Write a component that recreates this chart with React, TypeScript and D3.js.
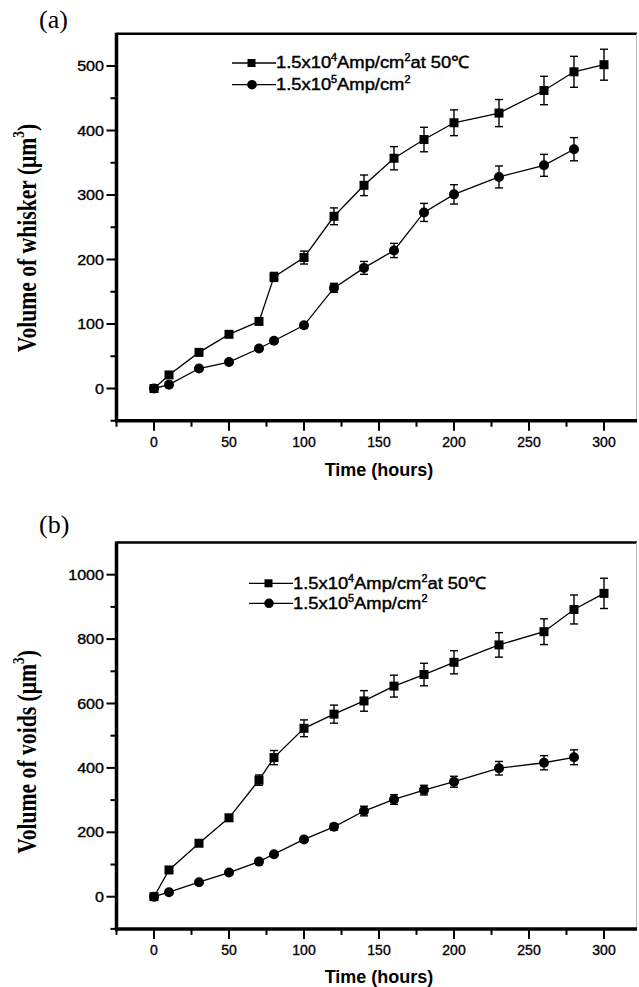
import React from "react";
import * as d3 from "d3";

const timeSq = [0, 10, 30, 50, 70, 80, 100, 120, 140, 160, 180, 200, 230, 260, 280, 300];
const timeCirc = [0, 10, 30, 50, 70, 80, 100, 120, 140, 160, 180, 200, 230, 260, 280];

const whiskerSq = [0, 21, 56, 84, 104, 173, 203, 267, 315, 357, 386, 412, 427, 462, 491, 502];
const whiskerSqErr = [2, 3, 3, 3, 4, 7, 10, 13, 16, 18, 19, 20, 21, 22, 24, 24];
const whiskerCirc = [0, 6, 31, 41, 62, 74, 98, 156, 187, 214, 273, 301, 328, 346, 371];
const whiskerCircErr = [2, 2, 2, 2, 3, 3, 4, 7, 10, 11, 14, 15, 17, 17, 18];

const voidsSq = [0, 83, 166, 245, 362, 432, 523, 567, 608, 654, 690, 728, 782, 823, 892, 942];
const voidsSqErr = [4, 6, 6, 8, 16, 22, 26, 28, 32, 34, 35, 36, 38, 40, 45, 47];
const voidsCirc = [0, 14, 45, 75, 109, 132, 178, 217, 266, 302, 331, 357, 399, 416, 433];
const voidsCircErr = [4, 4, 4, 5, 6, 6, 8, 10, 15, 15, 15, 17, 21, 22, 23];

const xMajor = [0, 50, 100, 150, 200, 250, 300];
const xMinor = [-25, 25, 75, 125, 175, 225, 275];
const yMajorA = [0, 100, 200, 300, 400, 500];
const yMinorA = [-50, 50, 150, 250, 350, 450];
const yMajorB = [0, 200, 400, 600, 800, 1000];
const yMinorB = [-100, 100, 300, 500, 700, 900];

const SANS = "'Liberation Sans', Arial, sans-serif";
const SERIF = "'Liberation Serif', 'Times New Roman', serif";

type Panel = {
  letter: string;
  yTitle: string;
  top: number;
  bottom: number;
  yDomain: [number, number];
  yMajor: number[];
  yMinor: number[];
  sq: number[];
  sqErr: number[];
  circ: number[];
  circErr: number[];
  legendX: number;
  legendY: number;
  legendGap: number;
  titleCenterY: number;
  letterY: number;
  xTitleY: number;
};

const panels: Panel[] = [
  {
    letter: "(a)",
    yTitle: "Volume of whisker (\u03bcm",
    top: 33.75,
    bottom: 420.75,
    yDomain: [-50, 550],
    yMajor: yMajorA,
    yMinor: yMinorA,
    sq: whiskerSq,
    sqErr: whiskerSqErr,
    circ: whiskerCirc,
    circErr: whiskerCircErr,
    legendX: 232,
    legendY: 63,
    legendGap: 21.7,
    titleCenterY: 238,
    letterY: 28,
    xTitleY: 476,
  },
  {
    letter: "(b)",
    yTitle: "Volume of voids (\u03bcm",
    top: 542.5,
    bottom: 928.9,
    yDomain: [-100, 1100],
    yMajor: yMajorB,
    yMinor: yMinorB,
    sq: voidsSq,
    sqErr: voidsSqErr,
    circ: voidsCirc,
    circErr: voidsCircErr,
    legendX: 249,
    legendY: 583.3,
    legendGap: 20,
    titleCenterY: 752,
    letterY: 533,
    xTitleY: 983,
  },
];

const LEFT = 116.5;
const RIGHT = 637;

function ErrorBars({ xs, ys, errs, x, y }: any) {
  return (
    <g stroke="#000" strokeWidth={1.4} fill="none">
      {xs.map((t: number, i: number) => {
        const cx = x(t);
        const y1 = y(ys[i] + errs[i]);
        const y2 = y(ys[i] - errs[i]);
        return (
          <g key={i}>
            <line x1={cx} x2={cx} y1={y1} y2={y2} />
            <line x1={cx - 4} x2={cx + 4} y1={y1} y2={y1} />
            <line x1={cx - 4} x2={cx + 4} y1={y2} y2={y2} />
          </g>
        );
      })}
    </g>
  );
}

function LegendText({ x, y, sup1, tail }: { x: number; y: number; sup1: string; tail: string }) {
  return (
    <text
      x={x}
      y={y}
      fontFamily={SANS}
      fontSize={17}
      fill="#000"
      stroke="#000"
      strokeWidth={0.45}
      transform={`translate(${x},0) scale(1.08,1) translate(${-x},0)`}
    >
      1.5x10
      <tspan fontSize={10} dy={-7}>{sup1}</tspan>
      <tspan dy={7}>Amp/cm</tspan>
      <tspan fontSize={10} dy={-7}>2</tspan>
      <tspan dy={7}>{tail}</tspan>
    </text>
  );
}

function PanelView({ p }: { p: Panel }) {
  const x = d3.scaleLinear().domain([-25, 322]).range([LEFT, RIGHT]);
  const y = d3.scaleLinear().domain(p.yDomain).range([p.bottom, p.top]);
  const lineSq = d3
    .line<number>()
    .x((_, i) => x(timeSq[i]))
    .y((v) => y(v));
  const lineCirc = d3
    .line<number>()
    .x((_, i) => x(timeCirc[i]))
    .y((v) => y(v));
  const ly1 = p.legendY;
  const ly2 = p.legendY + p.legendGap;
  const lx = p.legendX;
  return (
    <g>
      {/* frame */}
      <line x1={LEFT} x2={RIGHT} y1={p.top} y2={p.top} stroke="#000" strokeWidth={2.5} />
      <line x1={RIGHT - 0.5} x2={RIGHT - 0.5} y1={p.top} y2={p.bottom} stroke="#bbb" strokeWidth={1} />
      <line x1={LEFT} x2={LEFT} y1={p.top - 1} y2={p.bottom + 1.5} stroke="#000" strokeWidth={3.5} />
      <line x1={LEFT - 1.5} x2={RIGHT} y1={p.bottom} y2={p.bottom} stroke="#000" strokeWidth={3.5} />
      {/* y ticks */}
      {p.yMajor.map((v) => (
        <g key={"ym" + v}>
          <line x1={LEFT - 10} x2={LEFT} y1={y(v)} y2={y(v)} stroke="#000" strokeWidth={2} />
          <text
            x={0}
            y={0}
            transform={`translate(104,${y(v) + 5}) scale(1.15,1)`}
            textAnchor="end"
            fontFamily={SANS}
            fontSize={14}
            stroke="#000"
            strokeWidth={0.35}
          >
            {v}
          </text>
        </g>
      ))}
      {p.yMinor.map((v) => (
        <line key={"yn" + v} x1={LEFT - 6} x2={LEFT} y1={y(v)} y2={y(v)} stroke="#000" strokeWidth={2} />
      ))}
      {/* x ticks */}
      {xMajor.map((v) => (
        <g key={"xm" + v}>
          <line x1={x(v)} x2={x(v)} y1={p.bottom} y2={p.bottom + 10} stroke="#000" strokeWidth={2} />
          <text
            x={x(v)}
            y={p.bottom + 26}
            textAnchor="middle"
            fontFamily={SANS}
            fontSize={14}
            stroke="#000"
            strokeWidth={0.35}
          >
            {v}
          </text>
        </g>
      ))}
      {xMinor.map((v) => (
        <line key={"xn" + v} x1={x(v)} x2={x(v)} y1={p.bottom} y2={p.bottom + 6} stroke="#000" strokeWidth={2} />
      ))}
      {/* titles */}
      <text
        x={0}
        y={0}
        transform={`translate(36,${p.titleCenterY}) rotate(-90) scale(1.03,1.3)`}
        textAnchor="middle"
        fontFamily={SERIF}
        fontWeight="bold"
        fontSize={21}
      >
        {p.yTitle}
        <tspan fontSize={13} dy={-9}>3</tspan>
        <tspan dy={9}>)</tspan>
      </text>
      <text x={379} y={p.xTitleY} textAnchor="middle" fontFamily={SANS} fontWeight="bold" fontSize={18}>
        Time (hours)
      </text>
      <text x={39} y={p.letterY} fontFamily={SERIF} fontSize={26}>
        {p.letter}
      </text>
      {/* data */}
      <path d={lineSq(p.sq) || ""} fill="none" stroke="#000" strokeWidth={1.3} />
      <path d={lineCirc(p.circ) || ""} fill="none" stroke="#000" strokeWidth={1.3} />
      <ErrorBars xs={timeSq} ys={p.sq} errs={p.sqErr} x={x} y={y} />
      <ErrorBars xs={timeCirc} ys={p.circ} errs={p.circErr} x={x} y={y} />
      {p.sq.map((v, i) => (
        <rect key={"s" + i} x={x(timeSq[i]) - 4.5} y={y(v) - 4.5} width={9} height={9} fill="#000" />
      ))}
      {p.circ.map((v, i) => (
        <circle key={"c" + i} cx={x(timeCirc[i])} cy={y(v)} r={5} fill="#000" />
      ))}
      {/* legend */}
      <line x1={lx} x2={lx + 44} y1={ly1} y2={ly1} stroke="#000" strokeWidth={1.3} />
      <rect x={lx + 19.5 - 4} y={ly1 - 4} width={8} height={8} fill="#000" />
      <LegendText x={lx + 44} y={ly1 + 5.5} sup1="4" tail={"at 50\u2103"} />
      <line x1={lx} x2={lx + 44} y1={ly2} y2={ly2} stroke="#000" strokeWidth={1.3} />
      <circle cx={lx + 20} cy={ly2} r={4.8} fill="#000" />
      <LegendText x={lx + 44} y={ly2 + 5.5} sup1="5" tail="" />
    </g>
  );
}

export default function App() {
  return (
    <svg
      width={639}
      height={987}
      viewBox="0 0 639 987"
      style={{ position: "absolute", left: 0, top: 0, background: "#fff" }}
    >
      <rect width={639} height={987} fill="#fff" />
      {panels.map((p) => (
        <PanelView key={p.letter} p={p} />
      ))}
    </svg>
  );
}
